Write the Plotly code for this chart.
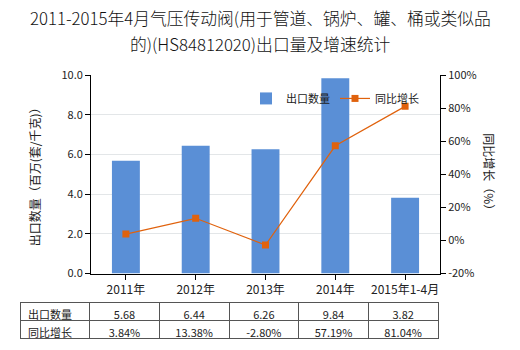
import plotly.graph_objects as go

categories = ["2011年", "2012年", "2013年", "2014年", "2015年1-4月"]
export_qty = [5.68, 6.44, 6.26, 9.84, 3.82]
growth_pct = [3.84, 13.38, -2.80, 57.19, 81.04]
qty_labels = ["5.68", "6.44", "6.26", "9.84", "3.82"]
growth_labels = ["3.84%", "13.38%", "-2.80%", "57.19%", "81.04%"]
left_ticks = [0, 2, 4, 6, 8, 10]
left_ticklabels = ["0.0", "2.0", "4.0", "6.0", "8.0", "10.0"]
right_ticks = [-20, 0, 20, 40, 60, 80, 100]
right_ticklabels = ["-20%", "0%", "20%", "40%", "60%", "80%", "100%"]

FONT = "Noto Sans CJK SC, Microsoft YaHei, sans-serif"
BAR = "#5a8fd6"
LINE = "#e0620d"

# page geometry (px)
W, H = 520, 350
ML, MR, MT, MB = 20, 80, 75, 8
PW = W - ML - MR
PH = H - MT - MB

def px_x(x):
    return (x - ML) / PW

def px_y(y):
    return (H - MB - y) / PH

fig = go.Figure()
fig.add_trace(go.Bar(x=categories, y=export_qty, name="出口数量",
                     marker=dict(color=BAR, line=dict(width=0)),
                     xaxis="x", yaxis="y"))
fig.add_trace(go.Scatter(x=categories, y=growth_pct, name="同比增长",
                         mode="lines+markers",
                         line=dict(color=LINE, width=1.2),
                         marker=dict(symbol="square", size=7, color=LINE),
                         xaxis="x", yaxis="y2"))

fig.add_trace(go.Table(
    domain=dict(x=[0, px_x(438)], y=[0, px_y(304)]),
    columnwidth=[70] + [70] * len(categories),
    header=dict(values=["出口数量"] + qty_labels,
                align=["left"] + ["center"] * len(categories),
                height=18,
                line=dict(color="#555555", width=1),
                fill=dict(color="white"),
                font=dict(family=FONT, size=11, color="#222222")),
    cells=dict(values=[["同比增长"]] + [[g] for g in growth_labels],
               align=["left"] + ["center"] * len(categories),
               height=18,
               line=dict(color="#555555", width=1),
               fill=dict(color="white"),
               font=dict(family=FONT, size=11, color="#222222")),
))

fig.update_layout(
    width=W, height=H,
    margin=dict(l=ML, r=MR, t=MT, b=MB - 5, pad=0),
    paper_bgcolor="white", plot_bgcolor="white",
    font=dict(family=FONT, size=11, color="#222222"),
    bargap=0.6,
    showlegend=True,
    legend=dict(orientation="h", x=px_x(246), y=px_y(84), xanchor="left", yanchor="top",
                bgcolor="rgba(0,0,0,0)", font=dict(family=FONT, size=11, color="#222222"),
                itemwidth=30, tracegroupgap=0),
    xaxis=dict(domain=[px_x(91), 1.0], type="category",
               showline=True, linecolor="#000000", linewidth=1,
               ticks="outside", ticklen=5, tickcolor="#000000",
               tickfont=dict(family=FONT, size=12, color="#222222"),
               showgrid=False, anchor="y"),
    yaxis=dict(domain=[px_y(275), 1.0], range=[0, 10],
               tickvals=left_ticks, ticktext=left_ticklabels,
               showline=True, linecolor="#000000", linewidth=1,
               ticks="outside", ticklen=5, tickcolor="#000000",
               showgrid=True, gridcolor="#e3e6e8", gridwidth=1,
               zeroline=False,
               tickfont=dict(family=FONT, size=11, color="#222222")),
    yaxis2=dict(overlaying="y", side="right", range=[-20, 100],
                tickvals=right_ticks, ticktext=right_ticklabels,
                showline=True, linecolor="#000000", linewidth=1,
                ticks="outside", ticklen=5, tickcolor="#000000",
                showgrid=False, zeroline=False, anchor="x",
                tickfont=dict(family=FONT, size=11, color="#222222")),
    annotations=[
        dict(text="2011-2015年4月气压传动阀(用于管道、锅炉、罐、桶或类似品",
             x=px_x(260), y=px_y(18), xref="paper", yref="paper",
             xanchor="center", yanchor="middle", showarrow=False,
             font=dict(family=FONT, size=16.8, color="#111111", weight=300)),
        dict(text="的)(HS84812020)出口量及增速统计",
             x=px_x(260), y=px_y(44), xref="paper", yref="paper",
             xanchor="center", yanchor="middle", showarrow=False,
             font=dict(family=FONT, size=16.8, color="#111111", weight=300)),
        dict(text="出口数量（百万(套/千克)）", textangle=-90,
             x=px_x(34), y=px_y(175), xref="paper", yref="paper",
             xanchor="center", yanchor="middle", showarrow=False,
             font=dict(family=FONT, size=12, color="#222222")),
        dict(text="同比增长（%）", textangle=90,
             x=px_x(490), y=px_y(175), xref="paper", yref="paper",
             xanchor="center", yanchor="middle", showarrow=False,
             font=dict(family=FONT, size=12, color="#222222")),
    ],
)

fig.write_html("out.html")
